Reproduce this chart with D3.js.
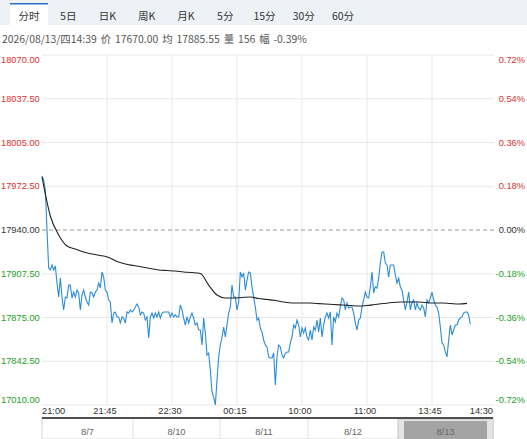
<!DOCTYPE html>
<html><head><meta charset="utf-8">
<script src="https://cdn.jsdelivr.net/npm/d3@7"></script>
<style>
html,body{margin:0;padding:0;background:#fff;}
svg{display:block;font-family:"Liberation Sans","Noto Sans CJK SC",sans-serif;}
</style></head>
<body><svg id="c" width="527" height="439"></svg>
<script>
// ---------- data ----------
const tabs = ["分时","5日","日K","周K","月K","5分","15分","30分","60分"];
const infoText = "2026/08/13/四14:39 价 17670.00 均 17885.55 量 156 幅 -0.39%";
const basePrice = 17940;
const yTickValues = [18070,18037.5,18005,17972.5,17940,17907.5,17875,17842.5,17810];
const yLeftLabels = ["18070.00","18037.50","18005.00","17972.50","17940.00","17907.50","17875.00","17842.50","17010.00"];
const yRightLabels = ["0.72%","0.54%","0.36%","0.18%","0.00%","-0.18%","-0.36%","-0.54%","-0.72%"];
const timeLabels = ["21:00","21:45","22:30","00:15","10:00","11:00","13:45","14:30"];
const dateLabels = ["8/7","8/10","8/11","8/12","8/13"];
const totalSlots = 273;
const price = [
17980.1,17977.1,17969.7,17940.0,17911.8,17910.3,17914.0,17910.3,17913.3,17900.6,
17890.2,17904.3,17890.2,17880.6,17890.2,17889.5,17899.1,17899.1,17889.5,17893.9,
17890.2,17895.4,17893.2,17880.6,17891.7,17895.4,17890.2,17886.5,17884.3,17893.9,
17893.2,17890.2,17893.9,17895.4,17900.6,17896.9,17908.8,17905.1,17895.4,17893.9,
17888.0,17886.5,17870.9,17878.3,17879.1,17875.4,17875.4,17870.9,17875.4,17874.6,
17870.9,17879.1,17878.3,17880.6,17879.1,17880.6,17882.8,17885.0,17882.8,17876.9,
17879.1,17878.3,17873.1,17875.4,17859.8,17875.4,17878.3,17874.6,17878.3,17875.4,
17879.1,17874.6,17878.3,17879.1,17879.1,17879.1,17879.1,17875.4,17878.3,17875.4,
17876.9,17875.4,17875.4,17884.3,17880.6,17874.6,17869.4,17875.4,17870.9,17875.4,
17878.3,17874.6,17869.4,17870.9,17865.7,17865.7,17854.6,17874.6,17863.5,17847.1,
17848.6,17836.0,17819.7,17815.9,17810.0,17828.6,17845.7,17854.6,17860.5,17867.9,
17860.5,17869.4,17878.3,17882.8,17899.1,17890.2,17890.2,17880.6,17886.5,17908.8,
17905.1,17908.1,17895.4,17902.9,17908.8,17908.1,17897.7,17890.2,17882.8,17873.1,
17874.6,17867.2,17864.2,17858.3,17854.6,17853.1,17845.7,17844.9,17844.9,17848.6,
17824.9,17845.7,17854.6,17853.1,17847.1,17844.9,17848.6,17849.4,17849.4,17856.1,
17860.5,17869.4,17867.2,17873.1,17869.4,17860.5,17867.2,17863.5,17867.2,17860.5,
17858.3,17865.7,17858.3,17867.9,17865.7,17873.1,17864.2,17874.6,17860.5,17869.4,
17875.4,17878.3,17874.6,17879.1,17854.6,17875.4,17871.7,17878.3,17875.4,17882.8,
17889.5,17888.0,17880.6,17885.8,17882.1,17882.8,17882.8,17878.3,17870.9,17865.7,
17873.1,17874.6,17882.8,17888.0,17893.9,17890.2,17889.5,17897.7,17908.8,17893.2,
17897.7,17896.9,17904.3,17915.5,17923.7,17923.7,17915.5,17914.0,17905.1,17914.0,
17914.0,17914.0,17906.6,17900.6,17904.3,17897.7,17895.4,17888.0,17880.6,17886.5,
17893.9,17880.6,17886.5,17888.0,17880.6,17885.8,17882.1,17880.6,17884.3,17882.1,
17875.4,17888.0,17885.8,17889.5,17893.9,17888.0,17884.3,17882.8,17878.3,17867.9,
17856.1,17854.6,17849.4,17845.7,17858.3,17869.4,17862.0,17865.7,17869.4,17869.4,
17873.1,17874.6,17875.4,17878.3,17879.1,17879.1,17876.9,17870.0
];
const avgStep = 5;
const avgPrice = [
17979.4,17950.4,17936.3,17928.1,17925.9,17923.7,17922.2,17921.1,17919.6,17916.6,
17914.7,17913.6,17912.5,17911.4,17910.3,17909.9,17909.5,17908.8,17908.4,17907.7,
17899.1,17891.7,17889.5,17889.5,17889.9,17890.2,17889.1,17888.4,17887.6,17886.5,
17885.8,17885.8,17885.8,17885.4,17885.0,17884.7,17884.3,17883.9,17883.5,17883.9,
17884.7,17885.4,17886.1,17886.5,17886.5,17886.5,17886.1,17885.8,17885.8,17885.4,
17885.0,17885.5
];

// ---------- layout ----------
const svg = d3.select("#c");
const L = 42, R = 497, T = 55, B = 405, gridR = 494;
const x = d3.scaleLinear().domain([0, totalSlots]).range([L, R]);
const y = d3.scaleLinear().domain([17810, 18070]).range([B, T]);
const red = "#e0302d", green = "#22a022", dark = "#333";

// tab bar
svg.append("rect").attr("x",0).attr("y",0).attr("width",527).attr("height",25).attr("fill","#eef1f6");
svg.append("rect").attr("x",10).attr("y",3).attr("width",38).attr("height",22).attr("fill","#fff");
svg.append("rect").attr("x",10).attr("y",3).attr("width",38).attr("height",1.5).attr("fill","#2a6fd0");
const tabX = d3.scalePoint().domain(tabs).range([29, 343]);
svg.append("g").selectAll("text").data(tabs).join("text")
  .attr("x", d => tabX(d)).attr("y", 15).attr("text-anchor","middle")
  .attr("dominant-baseline","central")
  .attr("font-family","'Noto Sans CJK SC',sans-serif").attr("font-size",10.5)
  .attr("fill", "#333").text(d => d);

// info line
svg.append("text").attr("x",2).attr("y",38).attr("dominant-baseline","central")
  .attr("font-family","'Noto Sans CJK SC',sans-serif").attr("font-size",10.4)
  .attr("word-spacing", 1.6)
  .attr("fill","#555").text(infoText);

// horizontal grid
svg.append("g").selectAll("line").data(yTickValues.filter(v => v !== basePrice)).join("line")
  .attr("x1", L).attr("x2", gridR).attr("y1", d => y(d)).attr("y2", d => y(d))
  .attr("stroke", "#e8e8e8").attr("stroke-width", 1);
// vertical grid
const tickIdx = timeLabels.map((t, i) => i * totalSlots / (timeLabels.length - 1));
svg.append("g").selectAll("line").data(tickIdx.slice(1, -1)).join("line")
  .attr("x1", d => x(d)).attr("x2", d => x(d)).attr("y1", T).attr("y2", B)
  .attr("stroke", "#e8e8e8").attr("stroke-width", 1);
// base dashed line
svg.append("line").attr("x1", L).attr("x2", gridR).attr("y1", y(basePrice)).attr("y2", y(basePrice))
  .attr("stroke", "#999").attr("stroke-dasharray", "4,3").attr("stroke-width", 1);

// y labels
const colorOf = v => v > basePrice ? red : (v < basePrice ? green : dark);
const labelY = v => Math.min(Math.max(y(v), T + 5), B - 5);
svg.append("g").selectAll("text").data(yTickValues).join("text")
  .attr("x", 1).attr("y", d => labelY(d)).attr("dominant-baseline", "central")
  .attr("font-size", 9.3).attr("fill", colorOf).text((d, i) => yLeftLabels[i]);
svg.append("g").selectAll("text").data(yTickValues).join("text")
  .attr("x", 525).attr("y", d => labelY(d)).attr("dominant-baseline", "central")
  .attr("text-anchor", "end")
  .attr("font-size", 9.3).attr("fill", colorOf).text((d, i) => yRightLabels[i]);

// lines
const priceLine = d3.line().x((d, i) => x(i)).y(d => y(d));
svg.append("path").datum(price).attr("d", priceLine)
  .attr("fill", "none").attr("stroke", "#2b8cd6").attr("stroke-width", 1.1);
const avgLine = d3.line().x((d, i) => x(i * avgStep)).y(d => y(d)).curve(d3.curveMonotoneX);
svg.append("path").datum(avgPrice).attr("d", avgLine)
  .attr("fill", "none").attr("stroke", "#222").attr("stroke-width", 1.1);

// time labels
svg.append("g").selectAll("text").data(timeLabels).join("text")
  .attr("x", (d, i) => i === 0 ? L : (i === timeLabels.length - 1 ? 493 : x(tickIdx[i]) - 2))
  .attr("y", 411).attr("dominant-baseline", "central")
  .attr("text-anchor", (d, i) => i === 0 ? "start" : (i === timeLabels.length - 1 ? "end" : "middle"))
  .attr("font-size", 9.3).attr("fill", "#333").text(d => d);

// date navigator
const navL = 42, navR = 493, navT = 418;
const navEdges = [42, 133, 220, 308, 398, 493];
svg.append("rect").attr("x", navL).attr("y", navT).attr("width", navR - navL).attr("height", 439 - navT)
  .attr("fill", "#fff").attr("stroke", "#d8d8d8");
svg.append("g").selectAll("line").data(navEdges.slice(1, -1)).join("line")
  .attr("x1", d => d).attr("x2", d => d).attr("y1", navT).attr("y2", 439)
  .attr("stroke", "#e0e0e0");
svg.append("rect").attr("x", 398).attr("y", navT + 1).attr("width", 95).attr("height", 439 - navT)
  .attr("fill", "#e4e4e4").attr("stroke", "#ccc");
svg.append("rect").attr("x", 404).attr("y", navT + 3).attr("width", 83).attr("height", 439 - navT)
  .attr("fill", "#a4a4a4");
svg.append("line").attr("x1", navL).attr("x2", navR).attr("y1", navT).attr("y2", navT)
  .attr("stroke", "#505050").attr("stroke-width", 2);
svg.append("g").selectAll("text").data(dateLabels).join("text")
  .attr("x", (d, i) => (navEdges[i] + navEdges[i + 1]) / 2)
  .attr("y", 431.5).attr("dominant-baseline", "central").attr("text-anchor", "middle")
  .attr("font-size", 9.3).attr("fill", "#666").text(d => d);
</script></body></html>
